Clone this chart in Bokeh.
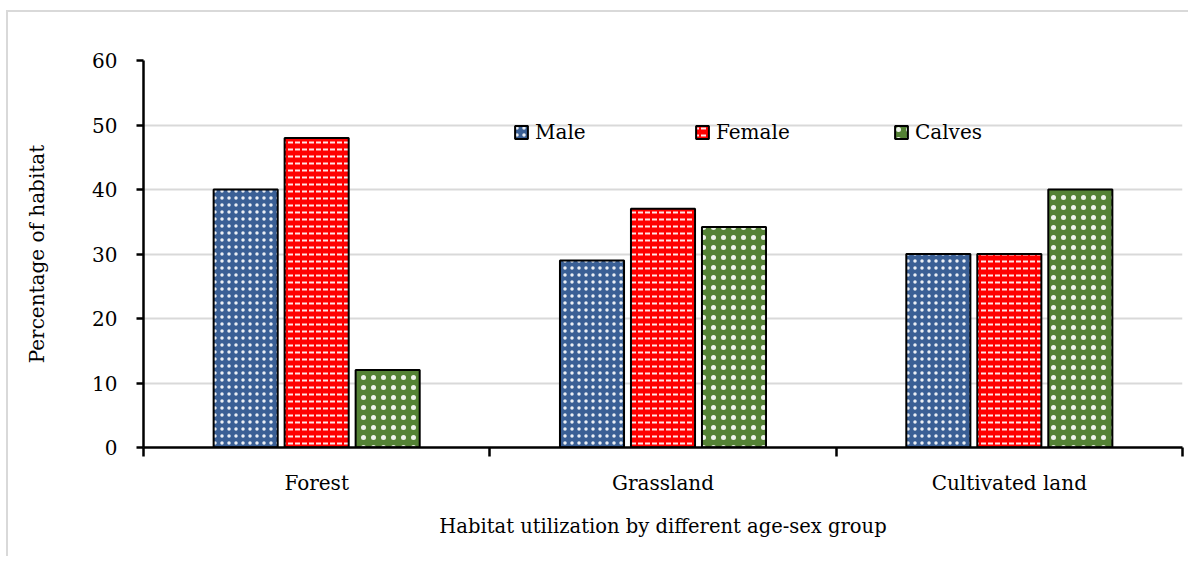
from bokeh.plotting import figure
from bokeh.models import (ColumnDataSource, FixedTicker, Legend, LegendItem,
                          Range1d, Spacer)
from bokeh.layouts import column, row
from bokeh.embed import file_html
from bokeh.resources import INLINE

categories = ["Forest", "Grassland", "Cultivated land"]
groups = ["Male", "Female", "Calves"]
male = [40, 29, 30]
female = [48, 37, 30]
calves = [12, 34.2, 40]
y_ticks = [0, 10, 20, 30, 40, 50, 60]

colors = {"Male": "#3A5F95", "Female": "#FF0000", "Calves": "#548235"}
hatch = {"Male": ("dot", 7, 1.6), "Female": ("horizontal_dash", 7, 2),
         "Calves": ("dot", 10, 0.2)}
offsets = {"Male": -0.205, "Female": 0.0, "Calves": 0.205}
values = {"Male": male, "Female": female, "Calves": calves}

FONT = "DejaVu Serif"
FS = "20px"

p = figure(width=1180, height=544, output_backend="svg", toolbar_location=None,
           x_range=Range1d(0, 3), y_range=Range1d(0, 60),
           min_border_left=135, min_border_right=8, min_border_top=48,
           min_border_bottom=111, frame_width=1037, frame_height=385)
p.outline_line_color = None
p.background_fill_color = "white"
p.styles = {"border-top": "2px solid #d9d9d9", "border-left": "2px solid #d9d9d9"}

renderers = {}
for g in groups:
    xs = [i + 0.5 + offsets[g] for i in range(len(categories))]
    src = ColumnDataSource(dict(x=xs, top=values[g]))
    pat, sc, wt = hatch[g]
    r = p.vbar(x="x", top="top", bottom=0, width=0.185, source=src,
               fill_color=colors[g], line_color="black", line_width=2,
               hatch_pattern=pat, hatch_scale=sc, hatch_weight=wt,
               hatch_color="white", hatch_alpha=0.9)
    renderers[g] = r

# axes
p.xgrid.visible = False
p.ygrid.grid_line_color = "#d9d9d9"
p.ygrid.grid_line_width = 2
p.yaxis.ticker = FixedTicker(ticks=y_ticks)
p.xaxis.ticker = FixedTicker(ticks=[i + 0.5 for i in range(len(categories))],
                             minor_ticks=list(range(len(categories) + 1)))
p.xaxis.major_label_overrides = {i + 0.5: c for i, c in enumerate(categories)}

for ax in (p.xaxis[0], p.yaxis[0]):
    ax.axis_line_color = "black"
    ax.axis_line_width = 2.5
    ax.major_tick_line_color = "black"
    ax.major_tick_line_width = 2.5
    ax.minor_tick_line_color = "black"
    ax.minor_tick_line_width = 2.5
    ax.major_label_text_font = FONT
    ax.major_label_text_font_size = FS
    ax.major_label_text_color = "black"
    ax.axis_label_text_font = FONT
    ax.axis_label_text_font_size = FS
    ax.axis_label_text_font_style = "normal"
    ax.axis_label_text_color = "black"

p.xaxis.axis_label_text_font_size = "19.5px"
p.xaxis.major_tick_in = 0
p.xaxis.major_tick_out = 0
p.xaxis.minor_tick_in = 0
p.xaxis.minor_tick_out = 9
p.xaxis.major_label_standoff = 14
p.xaxis.axis_label = "Habitat utilization by different age-sex group"
p.xaxis.axis_label_standoff = 17

p.yaxis.major_tick_in = 0
p.yaxis.major_tick_out = 7
p.yaxis.minor_tick_out = 0
p.yaxis.minor_tick_in = 0
p.yaxis.major_label_standoff = 19
p.yaxis.axis_label = "Percentage of habitat"
p.yaxis.axis_label_standoff = 40

legend_x = {"Male": 370, "Female": 551, "Calves": 750}
for g in groups:
    lg = Legend(items=[LegendItem(label=g, renderers=[renderers[g]])],
                location=(legend_x[g], 303), orientation="horizontal",
                padding=0, margin=0, spacing=0,
                glyph_width=16, glyph_height=16, label_height=16,
                label_standoff=6, border_line_color=None,
                background_fill_alpha=0,
                label_text_font=FONT, label_text_font_size=FS,
                label_text_color="black")
    p.add_layout(lg, "center")

layout = row(Spacer(width=6), column(Spacer(height=10), p, spacing=0), spacing=0)
open("out.html", "w").write(file_html(layout, INLINE))
